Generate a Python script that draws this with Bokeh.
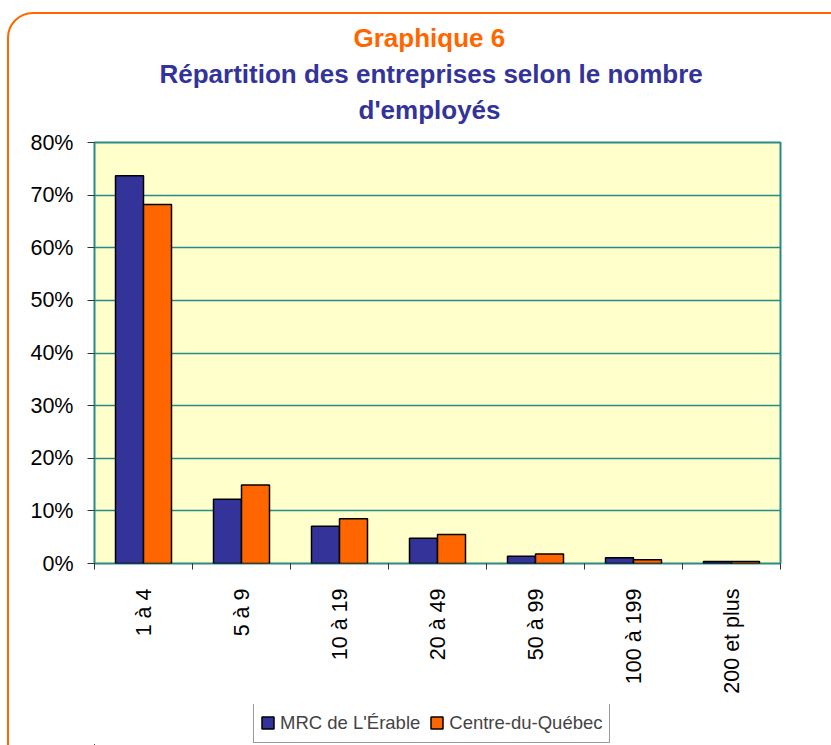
import math
from bokeh.plotting import figure
from bokeh.layouts import column
from bokeh.models import (ColumnDataSource, FixedTicker, PrintfTickFormatter, Title,
                          Legend, LegendItem, Range1d, InlineStyleSheet)
from bokeh.embed import file_html
from bokeh.resources import INLINE

categories = ["1 à 4", "5 à 9", "10 à 19", "20 à 49", "50 à 99", "100 à 199", "200 et plus"]
mrc_erable = [73.7, 12.2, 7.1, 4.8, 1.4, 1.1, 0.4]
centre_du_quebec = [68.2, 14.9, 8.5, 5.5, 1.8, 0.7, 0.4]
series_names = ["MRC de L'Érable", "Centre-du-Québec"]
y_ticks = [0, 10, 20, 30, 40, 50, 60, 70, 80]
title_lines = ["Graphique 6", "Répartition des entreprises selon le nombre", "d'employés"]

FONT = "Liberation Sans, Arial, sans-serif"
NAVY = "#333399"
ORANGE = "#FF6600"
TEAL = "#2B8A86"

bar_w = 1 / 3.5  # Excel gap width 150%
idx = list(range(len(categories)))
src = ColumnDataSource(dict(
    xm=[i + 0.5 - bar_w / 2 for i in idx],
    xc=[i + 0.5 + bar_w / 2 for i in idx],
    mrc=mrc_erable, cdq=centre_du_quebec,
))

p = figure(frame_width=686, frame_height=421, output_backend="svg", toolbar_location=None,
           x_range=Range1d(0, len(categories)), y_range=Range1d(0, 80),
           min_border_left=94, min_border_right=51, min_border_top=142, min_border_bottom=141,
           background_fill_color="#FFFFCC", border_fill_color="white")

# spacer between frame and titles
p.add_layout(Title(text=" ", text_font_size="1px", standoff=13), "above")
# titles (added bottom-up)
for txt, col, off in [(title_lines[2], NAVY, 264), (title_lines[1], NAVY, 65),
                      (title_lines[0], ORANGE, 259)]:
    p.add_layout(Title(text=txt, align="left", offset=off, text_color=col, text_font=FONT,
                       text_font_size="26px", text_font_style="bold", standoff=4), "above")

bar_styles = [dict(fill_color=NAVY, line_color="black", line_width=1.5),
              dict(fill_color=ORANGE, line_color="black", line_width=1.5)]
p.vbar(x="xm", top="mrc", width=bar_w, source=src, **bar_styles[0])
p.vbar(x="xc", top="cdq", width=bar_w, source=src, **bar_styles[1])

# y axis
p.yaxis.ticker = FixedTicker(ticks=y_ticks)
p.yaxis.formatter = PrintfTickFormatter(format="%d%%")
p.yaxis.major_label_text_font = FONT
p.yaxis.major_label_text_font_size = "21.5px"
p.yaxis.major_label_text_color = "black"
p.yaxis.major_tick_in = 0
p.yaxis.major_tick_out = 7
p.yaxis.major_tick_line_color = "#333333"
p.yaxis.minor_tick_line_color = None
p.yaxis.axis_line_color = None
p.yaxis.major_label_standoff = 14

# x axis: labels at category centres, ticks at boundaries
p.xaxis.ticker = FixedTicker(ticks=[i + 0.5 for i in idx], minor_ticks=list(range(len(categories) + 1)))
p.xaxis.major_label_overrides = {i + 0.5: c for i, c in zip(idx, categories)}
p.xaxis.major_label_orientation = math.pi / 2
p.xaxis.major_label_text_font = FONT
p.xaxis.major_label_text_font_size = "21.5px"
p.xaxis.major_label_text_color = "black"
p.xaxis.major_tick_in = 0
p.xaxis.major_tick_out = 0
p.xaxis.minor_tick_in = 0
p.xaxis.minor_tick_out = 6
p.xaxis.minor_tick_line_color = "#333333"
p.xaxis.axis_line_color = None
p.xaxis.major_label_standoff = 19
p.xaxis.axis_label = None

p.xgrid.grid_line_color = None
p.ygrid.grid_line_color = TEAL
p.ygrid.grid_line_width = 1.5
p.outline_line_color = TEAL
p.outline_line_width = 2

# legend strip: a small figure whose frame holds only the legend
# (its ranges are far away from the data, so only the legend shows)
pl = figure(frame_width=831, frame_height=41, output_backend="svg", toolbar_location=None,
            x_range=Range1d(1000, 1001), y_range=Range1d(1000, 1001),
            x_axis_location=None, y_axis_location=None,
            min_border_left=0, min_border_right=0, min_border_top=0, min_border_bottom=0,
            background_fill_color="white", border_fill_color="white", outline_line_color=None)
pl.xgrid.grid_line_color = None
pl.ygrid.grid_line_color = None
l1 = pl.vbar(x="xm", top="mrc", width=bar_w, source=src, **bar_styles[0])
l2 = pl.vbar(x="xc", top="cdq", width=bar_w, source=src, **bar_styles[1])
legend = Legend(items=[LegendItem(label=series_names[0], renderers=[l1]),
                       LegendItem(label=series_names[1], renderers=[l2])],
                orientation="horizontal", location=(253, 2),
                label_text_font=FONT, label_text_font_size="18.5px",
                glyph_width=15, glyph_height=15, label_standoff=5, spacing=9,
                padding=6, margin=0, label_height=27,
                border_line_color="#333333", border_line_width=1.2,
                background_fill_color="white")
pl.add_layout(legend, "center")

page = column(p, pl, spacing=0)
# rounded orange page frame (CSS on the layout's host element)
page.stylesheets = [InlineStyleSheet(css="""
:host { position: relative; overflow: hidden; }
:host::after {
  content: ""; position: absolute; left: 7px; top: 12px; width: 880px; height: 800px;
  border: 2.5px solid #FF6600; border-radius: 26px; pointer-events: none; z-index: 10;
}
""")]

open("out.html", "w").write(file_html(page, INLINE))
